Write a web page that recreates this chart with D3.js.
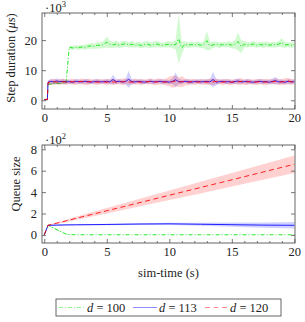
<!DOCTYPE html>
<html>
<head>
<meta charset="utf-8">
<script src="https://cdn.jsdelivr.net/npm/d3@7"></script>
<style>
  body { margin: 0; background: #fff; }
  svg text { font-family: "Liberation Serif", "Times New Roman", Times, "DejaVu Serif", serif; }
</style>
</head>
<body>
<div id="chart"></div>
<script>
// sim-time samples for the step duration runs (s)
const simTime = [
  0, 0.25, 0.3, 0.5, 0.75, 1, 1.25, 1.5, 1.75, 2,
  2.25, 2.5, 2.75, 3, 3.25, 3.5, 3.75, 4, 4.25, 4.5,
  4.75, 5, 5.25, 5.5, 5.75, 6, 6.25, 6.5, 6.75, 7,
  7.25, 7.5, 7.75, 8, 8.25, 8.5, 8.75, 9, 9.25, 9.5,
  9.75, 10, 10.25, 10.5, 10.75, 11, 11.25, 11.5, 11.75, 12,
  12.25, 12.5, 12.75, 13, 13.25, 13.5, 13.75, 14, 14.25, 14.5,
  14.75, 15, 15.25, 15.5, 15.75, 16, 16.25, 16.5, 16.75, 17,
  17.25, 17.5, 17.75, 18, 18.25, 18.5, 18.75, 19, 19.25, 19.5,
  19.75, 20];

// step duration, mean and spread (x10^3 us)
const step100 = [
  0.3, 0.3, 5.3, 5.4, 5.5, 5.6, 5.6, 5.8, 6.0, 17.6,
  17.4, 17.6, 17.5, 17.7, 17.6, 17.9, 18.1, 17.9, 18.3, 18.2,
  18.6, 19.3, 18.6, 18.4, 18.7, 18.3, 18.6, 18.8, 18.4, 18.6,
  18.3, 18.5, 18.2, 18.5, 18.6, 18.3, 18.5, 18.7, 18.4, 18.3,
  18.5, 18.6, 18.4, 18.5, 20.4, 17.4, 18.6, 18.3, 18.5, 18.4,
  18.6, 18.3, 18.5, 19.8, 18.1, 18.4, 18.6, 18.3, 18.5, 18.4,
  18.6, 18.3, 18.6, 19.5, 17.8, 18.6, 18.4, 18.5, 18.7, 18.3,
  18.5, 18.4, 18.6, 18.3, 18.5, 18.4, 18.7, 19.1, 18.4, 18.5,
  18.3, 18.5];
const step100Sd = [
  0.1, 0.1, 0.3, 0.3, 0.3, 0.3, 0.3, 0.3, 0.4, 0.6,
  0.7, 0.6, 0.8, 0.7, 0.9, 0.8, 1.0, 0.9, 1.1, 1.0,
  1.2, 1.8, 1.3, 1.0, 1.2, 0.9, 1.1, 1.0, 0.9, 1.1,
  0.8, 1.0, 0.9, 1.0, 1.1, 0.9, 1.0, 1.1, 0.9, 0.8,
  1.0, 1.1, 1.0, 1.6, 8.3, 2.0, 1.0, 0.9, 1.0, 0.8,
  1.0, 0.9, 1.2, 3.2, 1.4, 1.0, 0.9, 1.0, 0.8, 0.9,
  1.0, 1.1, 1.4, 3.0, 2.2, 1.1, 0.9, 0.8, 1.0, 0.9,
  0.8, 1.0, 0.9, 0.8, 1.0, 0.9, 1.0, 1.5, 1.0, 0.8,
  0.9, 0.8];
const step113 = [
  0.2, 0.2, 6.0, 6.3, 6.1, 6.4, 6.2, 6.3, 6.1, 6.2,
  6.0, 6.3, 6.2, 6.1, 6.3, 6.2, 6.0, 6.2, 6.3, 6.1,
  6.2, 6.3, 6.1, 6.9, 6.2, 6.3, 6.1, 6.2, 7.0, 6.2,
  6.1, 6.3, 6.2, 6.0, 6.2, 6.3, 6.1, 6.2, 6.3, 6.1,
  6.2, 6.0, 6.3, 6.8, 6.2, 6.1, 6.3, 6.2, 6.0, 6.2,
  6.3, 6.1, 6.2, 6.3, 6.1, 6.9, 6.0, 6.2, 6.3, 6.1,
  6.2, 6.0, 6.2, 6.4, 6.1, 6.2, 6.3, 6.1, 6.0, 6.2,
  6.3, 6.1, 6.2, 6.0, 6.3, 6.5, 6.1, 6.2, 6.0, 6.3,
  6.1, 6.2];
const step113Sd = [
  0.1, 0.1, 0.5, 0.8, 0.7, 0.9, 0.7, 0.8, 0.6, 0.7,
  0.6, 0.8, 0.7, 0.6, 0.8, 0.7, 0.6, 0.7, 0.8, 0.6,
  0.7, 0.8, 0.7, 1.6, 0.8, 0.7, 0.6, 0.9, 2.8, 0.9,
  0.7, 0.6, 0.8, 0.7, 0.6, 0.8, 0.7, 0.6, 0.7, 0.8,
  0.6, 0.7, 0.9, 2.4, 1.0, 0.7, 0.6, 0.8, 0.7, 0.6,
  0.7, 0.8, 0.6, 0.7, 0.9, 2.6, 1.0, 0.7, 0.6, 0.8,
  0.7, 0.6, 0.8, 0.9, 0.7, 0.6, 0.8, 0.7, 0.6, 0.7,
  0.8, 0.7, 0.6, 0.7, 0.9, 1.2, 0.8, 0.7, 0.6, 0.8,
  0.7, 0.6];
const step120 = [
  0.2, 0.2, 5.9, 6.0, 6.2, 6.0, 6.1, 6.2, 6.0, 6.1,
  6.2, 6.0, 6.1, 6.3, 6.0, 6.1, 6.2, 6.1, 6.0, 6.2,
  6.1, 6.0, 6.2, 6.1, 6.0, 6.2, 6.1, 6.3, 6.1, 6.0,
  6.2, 6.1, 6.0, 6.2, 6.1, 6.3, 6.0, 6.1, 6.2, 6.1,
  6.0, 6.3, 6.1, 6.4, 6.0, 6.2, 6.1, 6.0, 6.2, 6.1,
  6.0, 6.2, 6.1, 6.0, 6.2, 6.1, 6.3, 6.1, 6.0, 6.2,
  6.1, 6.0, 6.2, 6.1, 6.3, 6.0, 6.1, 6.2, 6.0, 6.1,
  6.2, 6.1, 6.0, 6.2, 6.1, 6.3, 6.0, 6.1, 6.2, 6.4,
  6.1, 6.2];
const step120Sd = [
  0.1, 0.1, 0.6, 0.9, 1.0, 0.8, 0.9, 1.0, 0.9, 0.8,
  1.0, 0.9, 0.8, 1.0, 0.9, 1.1, 0.8, 0.9, 1.0, 0.9,
  0.8, 1.0, 0.9, 1.0, 0.8, 0.9, 1.1, 1.0, 0.9, 0.8,
  1.0, 0.9, 1.0, 0.8, 0.9, 1.0, 0.9, 1.1, 1.0, 0.9,
  1.2, 1.6, 2.0, 1.8, 1.5, 1.9, 1.2, 1.0, 0.9, 1.0,
  0.8, 0.9, 1.0, 0.9, 1.1, 1.0, 0.9, 0.8, 1.0, 0.9,
  1.0, 0.9, 0.8, 1.0, 1.1, 0.9, 1.0, 0.8, 0.9, 1.0,
  0.9, 1.0, 1.1, 0.9, 0.8, 1.0, 0.9, 1.0, 1.2, 1.1,
  1.0, 0.9];

// queue size, mean and spread (x10^2)
const queueTime = [0, 0.3, 1, 1.8, 2.5, 5, 7.5, 10, 12.5, 15, 17.5, 20];
const queue100   = [0, 0.9, 0.5, 0.05, 0.02, 0.02, 0.02, 0.02, 0.02, 0.02, 0.02, 0.02];
const queue100Sd = [0, 0.03, 0.05, 0.03, 0.01, 0.01, 0.01, 0.01, 0.01, 0.01, 0.01, 0.01];
const queue113   = [0, 0.9, 0.92, 0.94, 0.95, 0.98, 1.02, 1.04, 1.0, 0.96, 0.92, 0.9];
const queue113Sd = [0, 0.05, 0.05, 0.05, 0.06, 0.07, 0.08, 0.1, 0.15, 0.2, 0.25, 0.3];
const queue120   = [0, 0.9, 1.1, 1.33, 1.54, 2.26, 2.98, 3.71, 4.43, 5.15, 5.88, 6.6];
const queue120Sd = [0, 0.05, 0.08, 0.12, 0.15, 0.25, 0.35, 0.45, 0.55, 0.63, 0.72, 0.82];

const seriesLabels = ["100", "113", "120"];
const seriesColors = ["#00e600", "#0000ff", "#ff0000"];
const seriesDash = ["4,2,1,2", null, "5,3.5"];

const xMajor = [0, 5, 10, 15, 20];
const xMinor = [1, 2, 3, 4, 6, 7, 8, 9, 11, 12, 13, 14, 16, 17, 18, 19];
const stepTicks = [0, 10, 20];
const queueTicks = [0, 2, 4, 6, 8];

const W = 305, H = 322;
const frameL = 42, frameR = 295;
const serif = "'Liberation Serif', 'Times New Roman', Times, 'DejaVu Serif', serif";
const svg = d3.select("#chart").append("svg")
  .attr("width", W).attr("height", H);

const x = d3.scaleLinear().domain([-0.18, 20.05]).range([frameL, frameR]);

function zip(time, mean, sd) {
  return time.map((t, i) => ({t: t, m: mean[i], s: sd[i]}));
}

function panel(id, top, bottom, yDomain, yTicks, series, expo, ylabel, labelX, labelY) {
  const y = d3.scaleLinear().domain(yDomain).range([bottom, top]);
  const g = svg.append("g");

  g.append("clipPath").attr("id", "clip" + id)
    .append("rect")
      .attr("x", frameL).attr("y", top)
      .attr("width", frameR - frameL).attr("height", bottom - top);

  const plot = g.append("g").attr("clip-path", `url(#clip${id})`);
  const area = d3.area().x(d => x(d.t)).y0(d => y(d.m - d.s)).y1(d => y(d.m + d.s));
  const line = d3.line().x(d => x(d.t)).y(d => y(d.m));

  series.forEach((data, i) => {
    plot.append("path").datum(data)
      .attr("d", area)
      .attr("fill", seriesColors[i]).attr("fill-opacity", 0.18)
      .attr("stroke", "none");
    plot.append("path").datum(data)
      .attr("d", line)
      .attr("fill", "none")
      .attr("stroke", seriesColors[i])
      .attr("stroke-width", 0.85)
      .attr("stroke-dasharray", seriesDash[i]);
  });

  // ticks on all four sides, pointing inwards
  g.append("g").attr("transform", `translate(0,${bottom})`)
    .call(d3.axisBottom(x).tickValues(xMajor).tickSize(-4).tickPadding(4).tickFormat(d3.format("d")));
  g.append("g").attr("transform", `translate(0,${bottom})`)
    .call(d3.axisBottom(x).tickValues(xMinor).tickSize(-2).tickFormat(""));
  g.append("g").attr("transform", `translate(0,${top})`)
    .call(d3.axisTop(x).tickValues(xMajor).tickSize(-4).tickFormat(""));
  g.append("g").attr("transform", `translate(0,${top})`)
    .call(d3.axisTop(x).tickValues(xMinor).tickSize(-2).tickFormat(""));
  g.append("g").attr("transform", `translate(${frameL},0)`)
    .call(d3.axisLeft(y).tickValues(yTicks).tickSize(-4).tickPadding(5).tickFormat(d3.format("d")));
  g.append("g").attr("transform", `translate(${frameR},0)`)
    .call(d3.axisRight(y).tickValues(yTicks).tickSize(-4).tickFormat(""));

  g.selectAll(".domain").remove();
  g.selectAll("g").attr("font-family", serif);
  g.selectAll(".tick line").attr("stroke", "#555").attr("stroke-width", 0.8);
  g.selectAll(".tick text")
    .style("font-family", serif)
    .attr("font-size", 12.5).attr("fill", "#222");

  g.append("rect")
    .attr("x", frameL).attr("y", top)
    .attr("width", frameR - frameL).attr("height", bottom - top)
    .attr("fill", "none").attr("stroke", "#555").attr("stroke-width", 0.9);

  // scale factor above the frame
  const e = g.append("text")
    .attr("x", frameL + 3).attr("y", top - 1.5)
    .style("font-family", serif)
    .attr("font-size", 12.5).attr("fill", "#222");
  e.append("tspan").text("\u00b710");
  e.append("tspan").attr("font-size", 8.5).attr("dy", -5).text(expo);

  g.append("text")
    .attr("transform", `translate(${labelX},${labelY}) rotate(-90)`)
    .attr("text-anchor", "middle")
    .style("font-family", serif)
    .attr("font-size", 12.5).attr("fill", "#222")
    .html(ylabel);
}

panel("a", 13, 109, [-2.9, 29], stepTicks,
  [zip(simTime, step100, step100Sd), zip(simTime, step113, step113Sd), zip(simTime, step120, step120Sd)],
  "3", "Step duration (<tspan font-style=\"italic\">\u03bcs</tspan>)", 15, 58);

panel("b", 145, 243, [-0.75, 8.4], queueTicks,
  [zip(queueTime, queue100, queue100Sd), zip(queueTime, queue113, queue113Sd), zip(queueTime, queue120, queue120Sd)],
  "2", "Queue size", 20, 184);

svg.append("text")
  .attr("x", (frameL + frameR) / 2).attr("y", 277)
  .attr("text-anchor", "middle")
  .style("font-family", serif)
  .attr("font-size", 12.5).attr("fill", "#222")
  .text("sim-time (s)");

// legend
const legend = svg.append("g");
legend.append("rect")
  .attr("x", 56).attr("y", 299).attr("width", 225).attr("height", 17)
  .attr("fill", "#fff").attr("stroke", "#555").attr("stroke-width", 0.9);

const legendX = [59, 133, 205];
const legendLen = [26, 24, 23];
seriesLabels.forEach((lab, i) => {
  legend.append("line")
    .attr("x1", legendX[i]).attr("x2", legendX[i] + legendLen[i])
    .attr("y1", 307.5).attr("y2", 307.5)
    .attr("stroke", seriesColors[i]).attr("stroke-opacity", 0.45)
    .attr("stroke-width", 1)
    .attr("stroke-dasharray", seriesDash[i]);
  const t = legend.append("text")
    .attr("x", legendX[i] + legendLen[i] + 2).attr("y", 312)
    .style("font-family", serif)
    .attr("font-size", 12.5).attr("fill", "#222");
  t.append("tspan").attr("font-style", "italic").text("d");
  t.append("tspan").text(" = " + lab);
});
</script>
</body>
</html>
